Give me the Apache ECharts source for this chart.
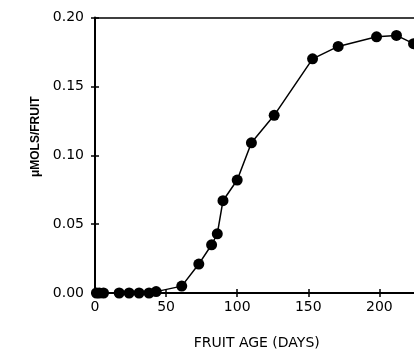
<!DOCTYPE html>
<html>
<head>
<meta charset="utf-8">
<script src="https://cdn.jsdelivr.net/npm/echarts@6/dist/echarts.min.js"></script>
<style>
html,body{margin:0;padding:0;background:#fff;}
#chart{width:414px;height:352px;}
</style>
</head>
<body>
<div id="chart"></div>
<script>
const days = [1, 3, 6, 17, 24, 31, 38, 43, 61, 73, 82, 86, 90, 100, 110, 126, 153, 171, 198, 212, 224];
const umols = [0, 0, 0, 0, 0, 0, 0, 0.001, 0.005, 0.021, 0.035, 0.043, 0.067, 0.082, 0.109, 0.129, 0.170, 0.179, 0.186, 0.187, 0.181];
const yTicks = ['0.00', '0.05', '0.10', '0.15', '0.20'];
const xTicks = [0, 50, 100, 150, 200];

const font = 'DejaVu Sans';
const chart = echarts.init(document.getElementById('chart'), null, {renderer: 'canvas'});
const xBase = {type: 'value', min: 0, max: 250, interval: 50};
const yBase = {type: 'value', min: 0, max: 0.2, interval: 0.05};
chart.setOption({
  animation: false,
  backgroundColor: '#fff',
  grid: {left: 95, top: 17.5, width: 355.5, height: 275.5, containLabel: false, outerBoundsMode: 'none'},
  xAxis: [
    Object.assign({}, xBase, {
      position: 'bottom',
      name: 'FRUIT AGE (DAYS)',
      nameLocation: 'middle',
      nameGap: 43,
      nameTextStyle: {fontFamily: font, fontSize: 14, color: '#000', padding: [0, 32, 0, 0]},
      axisLine: {show: true, onZero: false, lineStyle: {color: '#000', width: 2}},
      axisTick: {show: true, inside: false, length: 4, lineStyle: {color: '#000', width: 1.5}},
      axisLabel: {
        show: true, margin: 7, color: '#000', fontFamily: font, fontSize: 14,
        formatter: v => xTicks.indexOf(v) >= 0 ? String(v) : ''
      },
      splitLine: {show: false}
    }),
    Object.assign({}, xBase, {
      position: 'bottom',
      axisLine: {show: false},
      axisTick: {show: true, inside: true, length: 4, lineStyle: {color: '#000', width: 1.5}},
      axisLabel: {show: false},
      splitLine: {show: false}
    }),
    Object.assign({}, xBase, {
      position: 'top',
      axisLine: {show: true, onZero: false, lineStyle: {color: '#000', width: 1.5}},
      axisTick: {show: false},
      axisLabel: {show: false},
      splitLine: {show: false}
    })
  ],
  yAxis: [
    Object.assign({}, yBase, {
      position: 'left',
      name: 'μMOLS/FRUIT',
      nameLocation: 'middle',
      nameGap: 52,
      nameTextStyle: {fontFamily: 'Liberation Sans Narrow, Liberation Sans, sans-serif', fontSize: 12, fontWeight: 'bold', color: '#000', padding: [0, 0, 0, 37]},
      axisLine: {show: true, onZero: false, lineStyle: {color: '#000', width: 2}},
      axisTick: {show: true, inside: false, length: 4, lineStyle: {color: '#000', width: 1.5}},
      axisLabel: {
        show: true, margin: 11, color: '#000', fontFamily: font, fontSize: 14,
        formatter: (v) => { const i = Math.round(v / 0.05); return yTicks[i] || ''; }
      },
      splitLine: {show: false}
    }),
    Object.assign({}, yBase, {
      position: 'left',
      axisLine: {show: false},
      axisTick: {show: true, inside: true, length: 4, lineStyle: {color: '#000', width: 1.5}},
      axisLabel: {show: false},
      splitLine: {show: false}
    })
  ],
  series: [{
    type: 'line',
    xAxisIndex: 0,
    yAxisIndex: 0,
    data: days.map((d, i) => [d, umols[i]]),
    symbol: 'circle',
    symbolSize: 11,
    showAllSymbol: true,
    itemStyle: {color: '#000'},
    lineStyle: {color: '#000', width: 1.5},
    clip: false
  }]
});
</script>
</body>
</html>
